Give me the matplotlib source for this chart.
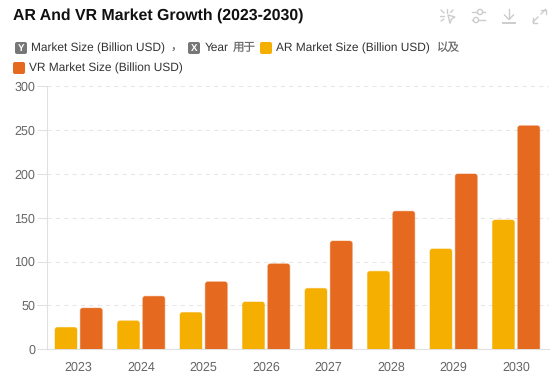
import matplotlib
matplotlib.use('Agg')
import matplotlib.pyplot as plt
from matplotlib.patches import FancyBboxPatch, PathPatch, Polygon, Circle
from matplotlib.path import Path

plt.rcParams['font.family'] = ['Liberation Sans', 'Noto Sans CJK SC', 'DejaVu Sans']
plt.rcParams['text.hinting'] = 'no_hinting'

years = ['2023', '2024', '2025', '2026', '2027', '2028', '2029', '2030']
ar_values = [25, 32.5, 42, 54, 69.5, 89, 114.5, 147.5]
vr_values = [47, 60.5, 77, 97.5, 123.5, 157.5, 200, 255]
y_ticks = [0, 50, 100, 150, 200, 250, 300]

AR_COLOR = '#F5AF00'
VR_COLOR = '#E56A20'
TEXT_COLOR = '#666666'
ICON_COLOR = '#cccccc'
W, H = 560, 378


def rounded_bar(ax, left, width, height, color, rx, ry):
    # only the top corners are rounded, radius given in data units
    right = left + width
    verts = [(left, 0), (left, height - ry), (left, height), (left + rx, height),
             (right - rx, height), (right, height), (right, height - ry),
             (right, 0), (left, 0)]
    codes = [Path.MOVETO, Path.LINETO, Path.CURVE3, Path.CURVE3,
             Path.LINETO, Path.CURVE3, Path.CURVE3,
             Path.LINETO, Path.CLOSEPOLY]
    ax.add_patch(PathPatch(Path(verts, codes), facecolor=color, edgecolor=color + '70',
                           linewidth=0.7, zorder=3))


fig = plt.figure(figsize=(W / 100, H / 100), dpi=100, facecolor='white')

# main chart, placed in pixels
ax_left, ax_right, ax_top, ax_bottom = 47.4, 548.6, 86.3, 349.3
ax = fig.add_axes([ax_left / W, 1 - ax_bottom / H, (ax_right - ax_left) / W, (ax_bottom - ax_top) / H])
ax.set_xlim(0, 8.02)
ax.set_ylim(0, 300)

px_x = 8.02 / (ax_right - ax_left)
px_y = 300 / (ax_bottom - ax_top)
bar_w = 22 * px_x
gap = 3.3 * px_x
for i in range(len(years)):
    center = i + 0.5
    rounded_bar(ax, center - gap / 2 - bar_w, bar_w, ar_values[i], AR_COLOR, 2.5 * px_x, 2.5 * px_y)
    rounded_bar(ax, center + gap / 2, bar_w, vr_values[i], VR_COLOR, 2.5 * px_x, 2.5 * px_y)

ax.set_yticks(y_ticks)
ax.set_xticks([i + 0.5 for i in range(len(years))])
ax.set_xticklabels(years)
ax.grid(axis='y', color='#e6e6e6', linestyle=(0, (4, 4)), linewidth=0.75, zorder=0)
ax.tick_params(axis='y', length=7.2, width=0.75, color='#e0e0e0', labelcolor=TEXT_COLOR, labelsize=9, pad=1.5)
ax.tick_params(axis='x', length=0, labelcolor=TEXT_COLOR, labelsize=9, pad=8.5)
for side in ['top', 'right']:
    ax.spines[side].set_visible(False)
for side in ['left', 'bottom']:
    ax.spines[side].set_color('#e0e0e0')
    ax.spines[side].set_linewidth(0.8)

# overlay in pixel coordinates for title, legend line and toolbar icons
ov = fig.add_axes([0, 0, 1, 1], zorder=5)
ov.set_xlim(0, W)
ov.set_ylim(H, 0)
ov.axis('off')

ov.text(13, 15.5, 'AR And VR Market Growth (2023-2030)', fontsize=11.45, fontweight='bold',
        color='#111111', va='center', ha='left')


def swatch(x, y, color, letter=None):
    ov.add_patch(FancyBboxPatch((x + 1.5, y + 1.5), 9, 9, boxstyle='round,pad=1.5,rounding_size=2',
                                facecolor=color, edgecolor='none'))
    if letter:
        ov.text(x + 6, y + 6.2, letter, fontsize=7, fontweight='bold', color='white', ha='center', va='center')


LEGEND_COLOR = '#333333'
CJK_COLOR = '#6a6a6a'  # the CJK font comes out heavy, lighter grey evens it out
swatch(15, 42, '#777777', 'Y')
ov.text(31, 48, 'Market Size (Billion USD)', fontsize=8.6, color=LEGEND_COLOR, va='center')
ov.text(171, 48, '，', fontsize=8.3, color=CJK_COLOR, va='center')
swatch(188, 42, '#777777', 'X')
ov.text(204.5, 48, 'Year', fontsize=8.6, color=LEGEND_COLOR, va='center')
ov.text(232.7, 48, '用于', fontsize=8.3, color=CJK_COLOR, va='center')
swatch(260, 42, AR_COLOR)
ov.text(276.5, 48, 'AR Market Size (Billion USD)', fontsize=8.6, color=LEGEND_COLOR, va='center')
ov.text(435.7, 48, '以及', fontsize=8.3, color=CJK_COLOR, va='center')
swatch(13, 62, VR_COLOR)
ov.text(29, 68, 'VR Market Size (Billion USD)', fontsize=8.6, color=LEGEND_COLOR, va='center')

# toolbar icons
lw = 1.0
for p in [((441, 10), (444, 13)), ((447, 9), (447, 12.5)), ((453, 10), (450.5, 12.5)),
          ((440, 16), (444, 16)), ((441, 21), (444, 19))]:
    ov.plot(*zip(*p), color=ICON_COLOR, lw=lw, solid_capstyle='round')
ov.add_patch(Polygon([(448, 15), (455, 17), (451.5, 19), (450, 23.5)], closed=True, fill=False,
                     edgecolor=ICON_COLOR, lw=lw))

ov.plot([472, 477], [12, 12], color=ICON_COLOR, lw=lw)
ov.plot([483, 485], [12, 12], color=ICON_COLOR, lw=lw)
ov.plot([472, 473], [20, 20], color=ICON_COLOR, lw=lw)
ov.plot([479, 485], [20, 20], color=ICON_COLOR, lw=lw)
ov.add_patch(Circle((480, 12), 2.6, fill=False, edgecolor=ICON_COLOR, lw=lw))
ov.add_patch(Circle((476, 20), 2.6, fill=False, edgecolor=ICON_COLOR, lw=lw))

ov.plot([509, 509], [9, 19], color=ICON_COLOR, lw=lw)
ov.plot([504.5, 509, 513.5], [15, 19.5, 15], color=ICON_COLOR, lw=lw)
ov.plot([503, 515], [22.5, 22.5], color=ICON_COLOR, lw=1.4)

ov.plot([533, 538], [22, 17], color=ICON_COLOR, lw=lw)
ov.plot([533, 533, 537], [18, 22.5, 22.5], color=ICON_COLOR, lw=lw)
ov.plot([541, 545.5], [14, 9.5], color=ICON_COLOR, lw=lw)
ov.plot([541, 545.5, 545.5], [9.5, 9.5, 14], color=ICON_COLOR, lw=lw)

fig.savefig('out.png', dpi=100)
